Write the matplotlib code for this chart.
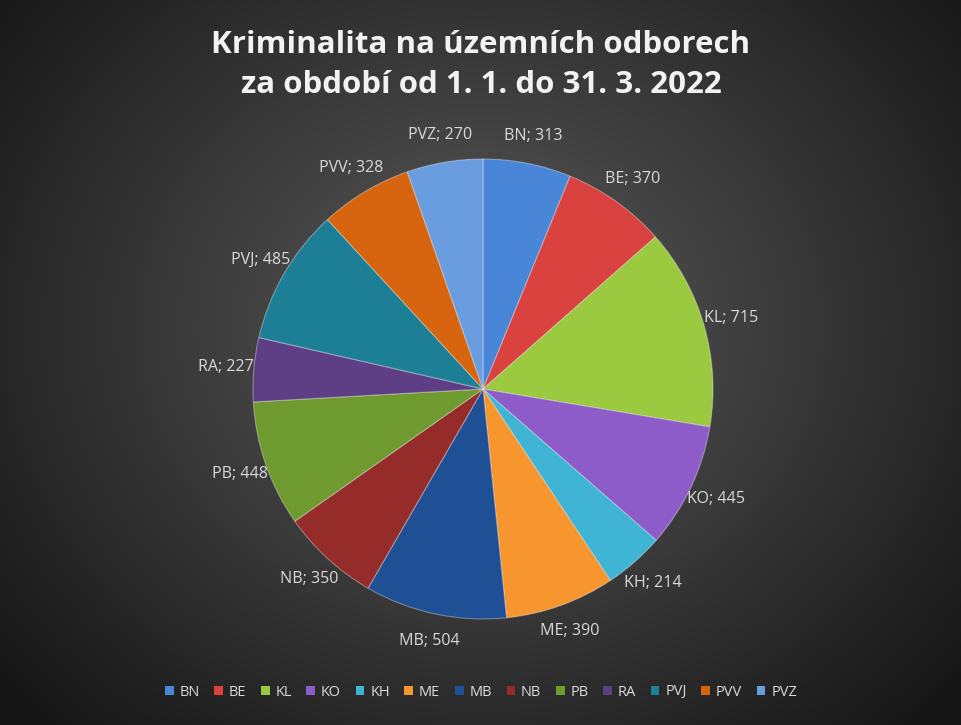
import numpy as np
import matplotlib.pyplot as plt
from matplotlib.patches import Patch

# data
categories = ["BN", "BE", "KL", "KO", "KH", "ME", "MB", "NB", "PB", "RA", "PVJ", "PVV", "PVZ"]
values = [313, 370, 715, 445, 214, 390, 504, 350, 448, 227, 485, 328, 270]
colors = ["#4a86d8", "#d9423f", "#9bc93f", "#8e5cc9", "#3fb4d4", "#f7952f", "#1f4f94",
          "#962c2a", "#6f9a30", "#5e3f86", "#1d7f95", "#d7650f", "#6a9de0"]
title = "Kriminalita na územních odborech\nza období od 1. 1. do 31. 3. 2022"

W, H = 962, 725
fig = plt.figure(figsize=(W / 100, H / 100), dpi=100)

# radial gradient background
bg = fig.add_axes([0, 0, 1, 1])
yy, xx = np.mgrid[0:H, 0:W]
d = np.sqrt(((xx - W / 2) / (W * 0.62)) ** 2 + ((yy - H * 0.45) / (H * 0.72)) ** 2)
shade = np.clip(0.36 - 0.26 * d, 0.09, 0.36)
bg.imshow(np.dstack([shade] * 3), aspect="auto", extent=[0, 1, 0, 1])
bg.set_axis_off()

cx, cy, r = 483 / W, 1 - 389 / H, 230
ax = fig.add_axes([cx - r / W, cy - r / H, 2 * r / W, 2 * r / H])
wedges, texts = ax.pie(values, colors=colors, startangle=90, counterclock=False,
                       labels=[f"{c}; {v}" for c, v in zip(categories, values)],
                       labeldistance=1.12, radius=1,
                       wedgeprops=dict(edgecolor=(1, 1, 1, 0.35), linewidth=0.8),
                       textprops=dict(color="#d9d9d9", fontsize=11.5, family="Open Sans"))
for t in texts:
    t.set_horizontalalignment("center")
ax.set_xlim(-1, 1)
ax.set_ylim(-1, 1)
ax.set_aspect("equal")

fig.text(0.5, 1 - 65 / H, title, ha="center", va="center", color="#f2f2f2",
         fontsize=22.5, fontweight="bold", family="Open Sans", linespacing=1.45)

handles = [Patch(facecolor=c, label=n) for c, n in zip(colors, categories)]
fig.legend(handles=handles, loc="center", bbox_to_anchor=(0.5, 1 - 692 / H), ncol=13,
           frameon=False, handlelength=0.6, handleheight=0.6, handletextpad=0.4,
           columnspacing=1.0, prop=dict(family="Open Sans", size=10.5),
           labelcolor="#d9d9d9")

fig.savefig("out.png", dpi=100)
